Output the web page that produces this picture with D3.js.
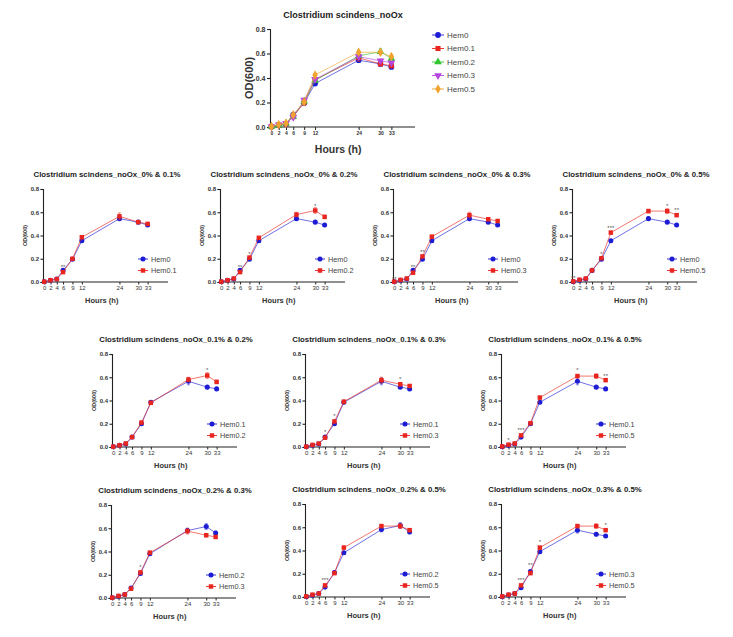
<!DOCTYPE html>
<html><head><meta charset="utf-8">
<script src="https://cdn.jsdelivr.net/npm/d3@7"></script>
<style>body{margin:0;background:#fff}svg{display:block;font-family:"Liberation Sans",Arial,sans-serif}</style>
</head><body><svg id="c" width="733" height="637"></svg>
<script>
const hours=[0,2,4,6,9,12,24,30,33];
const seriesNames=["Hem0","Hem0.1","Hem0.2","Hem0.3","Hem0.5"];
const hem0 =[0.002,0.015,0.025,0.100,0.195,0.355,0.545,0.515,0.490];
const hem01=[0.003,0.015,0.025,0.085,0.200,0.385,0.565,0.515,0.500];
const hem02=[0.003,0.015,0.030,0.085,0.210,0.380,0.580,0.615,0.560];
const hem03=[0.003,0.018,0.030,0.080,0.220,0.390,0.575,0.540,0.525];
const hem05=[0.005,0.020,0.030,0.100,0.205,0.425,0.610,0.610,0.575];
const err0 =[0.003,0.004,0.005,0.010,0.010,0.012,0.015,0.010,0.010];
const err01=[0.003,0.004,0.005,0.010,0.010,0.012,0.030,0.010,0.010];
const err02=[0.003,0.004,0.005,0.010,0.012,0.012,0.020,0.025,0.015];
const err03=[0.003,0.004,0.005,0.010,0.012,0.012,0.025,0.015,0.012];
const err05=[0.003,0.004,0.005,0.010,0.012,0.012,0.015,0.020,0.012];
const yTicks=[0,0.2,0.4,0.6,0.8];
const yTickLabels=["0.0","0.2","0.4","0.6","0.8"];
const xTickLabels=["0","2","4","6","9","12","24","30","33"];
const mainTitle="Clostridium scindens_noOx";
const panelPairs=[[0,1],[0,2],[0,3],[0,4],[1,2],[1,3],[1,4],[2,3],[2,4],[3,4]];
const panelSuffix=["0% & 0.1%","0% & 0.2%","0% & 0.3%","0% & 0.5%","0.1% & 0.2%","0.1% & 0.3%","0.1% & 0.5%","0.2% & 0.3%","0.2% & 0.5%","0.3% & 0.5%"];
const panelStars=[
 [[6,0.13,"**"]],
 [[6,0.13,"**"],[9,0.245,"*"],[30,0.655,"*"]],
 [[0,0.03,"**"],[6,0.13,"**"],[9,0.255,"**"]],
 [[0,0.035,"**"],[9,0.24,"*"],[12,0.465,"***"],[30,0.655,"*"],[33,0.62,"**"]],
 [[30,0.66,"*"]],
 [[6,0.125,"*"],[9,0.265,"*"],[30,0.585,"*"]],
 [[2,0.06,"*"],[6,0.145,"***"],[24,0.665,"*"],[33,0.615,"**"]],
 [[9,0.265,"*"]],
 [[6,0.145,"***"]],
 [[6,0.145,"***"],[9,0.275,"**"],[12,0.47,"*"],[33,0.62,"*"]]
];
const allValues=[hem0,hem01,hem02,hem03,hem05];
const allErrs=[err0,err01,err02,err03,err05];

// layout
const mainColors=["#1c1cd4","#e8261f","#2fc62f","#b446df","#f2a22e"];
const mainSymbols=[d3.symbolCircle,d3.symbolSquare,d3.symbolTriangle,d3.symbolTriangle,d3.symbolDiamond];
const pairColors=["#1c1cd4","#e8261f"];
const pairSymbols=[d3.symbolCircle,d3.symbolSquare];
const smallLayout=[
 {ax:43,y0:282},{ax:220,y0:282},{ax:393,y0:282},{ax:572,y0:282},
 {ax:112,y0:447},{ax:305,y0:447},{ax:501,y0:447},
 {ax:111,y0:598},{ax:305,y0:597},{ax:501,y0:597}
];
const svg=d3.select("#c");

function drawPanel(o){
  const g=svg.append("g");
  const x=d3.scaleLinear().domain([-0.4,39.5]).range([o.ax,o.ax+o.w]);
  const y=d3.scaleLinear().domain([0,0.8]).range([o.y0,o.y0-o.h]);
  const ya=g.append("g").attr("transform",`translate(${o.ax},0)`)
    .call(d3.axisLeft(y).tickValues(yTicks).tickFormat((d,i)=>yTickLabels[i]).tickSize(o.tick).tickPadding(1.5));
  ya.select(".domain").attr("stroke","#222").attr("stroke-width",1.1);
  ya.selectAll(".tick line").attr("stroke","#222").attr("stroke-width",1.1);
  ya.selectAll("text").attr("font-size",o.yfs).attr("font-weight","bold").attr("fill","#333").attr("font-family","Liberation Sans, Arial");
  const xa=g.append("g").attr("transform",`translate(0,${o.y0})`)
    .call(d3.axisBottom(x).tickValues(hours).tickFormat((d,i)=>xTickLabels[i]).tickSize(o.tick).tickSizeOuter(0).tickPadding(1.5));
  xa.select(".domain").attr("stroke","#222").attr("stroke-width",1.1).attr("d",`M${o.ax},0H${o.ax+o.w}`);
  xa.selectAll(".tick line").attr("stroke","#222").attr("stroke-width",1);
  xa.selectAll("text").attr("font-size",o.xfs).attr("font-weight",o.xbold).attr("fill","#333").attr("font-family","Liberation Sans, Arial");
  g.append("text").attr("x",o.tx).attr("y",o.ty).attr("text-anchor","middle")
    .attr("font-size",o.tfs).attr("font-weight","bold").attr("fill","#222").text(o.title);
  g.append("text").attr("x",o.ax+o.w*0.47).attr("y",o.y0+o.hy).attr("text-anchor","middle")
    .attr("font-size",o.hfs).attr("font-weight","bold").attr("fill","#333").text("Hours (h)");
  g.append("text").attr("transform",`translate(${o.ax-o.ly},${o.y0-o.h/2}) rotate(-90)`).attr("text-anchor","middle")
    .attr("font-size",o.lfs).attr("font-weight","bold").attr("fill","#333").text("OD(600)");
  o.series.forEach((s,si)=>{
    const vals=allValues[s], er=allErrs[s];
    const pts=hours.map((h,i)=>({h,v:vals[i],e:er[i]}));
    const c=o.colors[si];
    g.append("path").datum(pts).attr("fill","none").attr("stroke",c).attr("stroke-opacity",0.7).attr("stroke-width",0.9)
      .attr("d",d3.line().x(d=>x(d.h)).y(d=>y(d.v)));
    g.selectAll(null).data(pts).enter().append("path").attr("stroke",c).attr("stroke-opacity",0.6).attr("stroke-width",0.8).attr("fill","none")
      .attr("d",d=>{const xx=x(d.h),a=y(d.v+d.e),b=y(d.v-d.e);return `M${xx},${a}V${b}M${xx-1.5},${a}H${xx+1.5}M${xx-1.5},${b}H${xx+1.5}`;});
    g.selectAll(null).data(pts).enter().append("path").attr("fill",c)
      .attr("transform",d=>`translate(${x(d.h)},${y(d.v)})${si===3&&o.series.length>2?" rotate(180)":""}`)
      .attr("d",d3.symbol().type(o.symbols[si]).size(o.ms));
    const lx=o.lgx, ly=o.lgy+si*o.lgdy;
    g.append("line").attr("x1",lx-o.lgl).attr("x2",lx+o.lgl).attr("y1",ly).attr("y2",ly).attr("stroke",c).attr("stroke-width",0.9);
    g.append("path").attr("fill",c).attr("transform",`translate(${lx},${ly})${si===3&&o.series.length>2?" rotate(180)":""}`)
      .attr("d",d3.symbol().type(o.symbols[si]).size(o.ms));
    g.append("text").attr("x",lx+o.lgl+3).attr("y",ly+o.lfsz*0.35).attr("font-size",o.lfsz).attr("fill","#444").text(seriesNames[s]);
  });
  (o.stars||[]).forEach(st=>{
    g.append("text").attr("x",x(st[0])).attr("y",y(st[1])+2).attr("text-anchor","middle")
      .attr("font-size",6).attr("fill","#555").text(st[2]);
  });
}

drawPanel({ax:270,y0:127,w:145,h:98,tick:3,yfs:7,xfs:5,xbold:"bold",tfs:9,tx:343,ty:18,title:mainTitle,
  hy:26,hfs:10.5,ly:17,lfs:11,series:[0,1,2,3,4],colors:mainColors,symbols:mainSymbols,ms:26,
  lgx:438,lgy:35,lgdy:13.5,lgl:6,lfsz:8});

panelPairs.forEach((p,i)=>{
  const L=smallLayout[i];
  drawPanel({ax:L.ax,y0:L.y0,w:125,h:93,tick:2.5,yfs:6,xfs:6,xbold:"normal",tfs:7.8,tx:L.ax+64,ty:L.y0-105,
    title:mainTitle+"_"+panelSuffix[i],hy:21,hfs:7.5,ly:16,lfs:5.5,series:p,colors:pairColors,symbols:pairSymbols,ms:20,
    stars:panelStars[i],lgx:L.ax+100,lgy:L.y0-23,lgdy:11.5,lgl:5,lfsz:7.3});
});
</script></body></html>
